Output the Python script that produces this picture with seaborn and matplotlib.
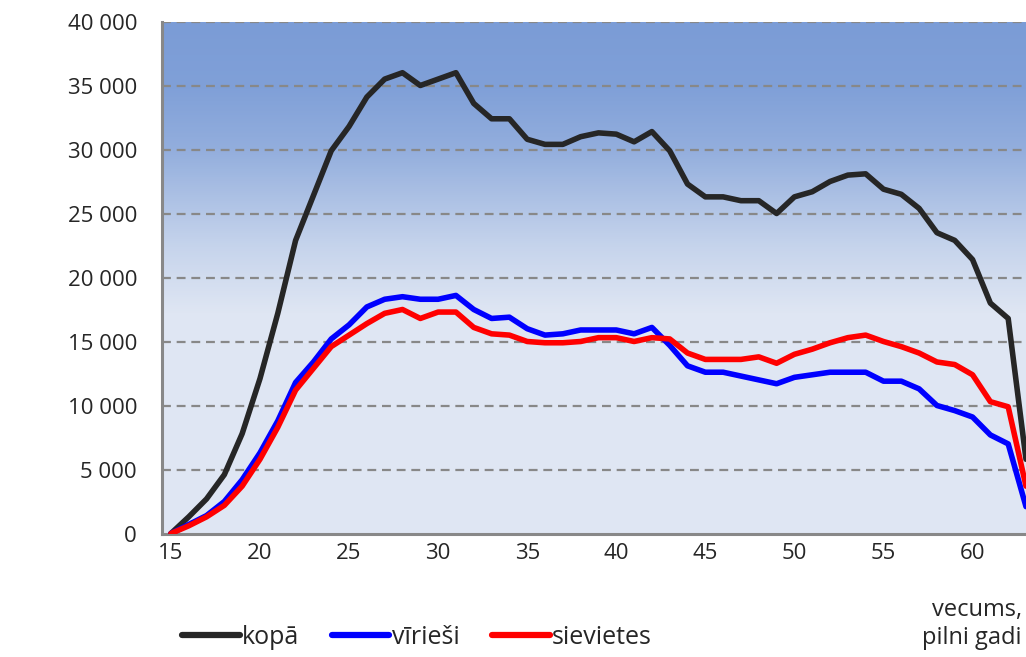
import numpy as np
import pandas as pd
import matplotlib
matplotlib.use("Agg")
import matplotlib.pyplot as plt
import seaborn as sns
from matplotlib.colors import LinearSegmentedColormap
from matplotlib.ticker import FuncFormatter

# vecums, pilni gadi
ages = list(range(15, 64))

kopa = [0, 1300, 2700, 4600, 7800, 12100, 17200, 22900, 26400, 29900,
        31800, 34100, 35500, 36000, 35000, 35500, 36000, 33600, 32400, 32400,
        30800, 30400, 30400, 31000, 31300, 31200, 30600, 31400, 29900, 27300,
        26300, 26300, 26000, 26000, 25000, 26300, 26700, 27500, 28000, 28100,
        26900, 26500, 25400, 23500, 22900, 21400, 18000, 16800, 5800]

virieši = [0, 700, 1400, 2500, 4200, 6300, 8800, 11800, 13400, 15200,
           16300, 17700, 18300, 18500, 18300, 18300, 18600, 17500, 16800, 16900,
           16000, 15500, 15600, 15900, 15900, 15900, 15600, 16100, 14700, 13100,
           12600, 12600, 12300, 12000, 11700, 12200, 12400, 12600, 12600, 12600,
           11900, 11900, 11300, 10000, 9600, 9100, 7700, 7000, 2100]

sievietes = [0, 600, 1300, 2200, 3700, 5800, 8300, 11200, 12900, 14600,
             15500, 16400, 17200, 17500, 16800, 17300, 17300, 16100, 15600, 15500,
             15000, 14900, 14900, 15000, 15300, 15300, 15000, 15300, 15200, 14100,
             13600, 13600, 13600, 13800, 13300, 14000, 14400, 14900, 15300, 15500,
             15000, 14600, 14100, 13400, 13200, 12400, 10300, 9900, 3700]

series_names = ["kopā", "vīrieši", "sievietes"]
colors = ["#262626", "#0000ff", "#ff0000"]

df = pd.concat([
    pd.DataFrame({"vecums": ages, "skaits": kopa, "grupa": "kopā"}),
    pd.DataFrame({"vecums": ages, "skaits": virieši, "grupa": "vīrieši"}),
    pd.DataFrame({"vecums": ages, "skaits": sievietes, "grupa": "sievietes"}),
])

sns.set_style("white")
plt.rcParams["font.family"] = ["Open Sans", "DejaVu Sans"]

fig = plt.figure(figsize=(10.26, 6.57), dpi=100)
ax = fig.add_axes([162 / 1026, (657 - 533.5) / 657, (1026 - 162) / 1026, 512 / 657])

# fona gradients
cmap = LinearSegmentedColormap.from_list("bg", [
    (0.0, "#dfe6f3"), (0.43, "#dfe6f3"), (0.56, "#c6d4ec"),
    (0.75, "#93aedd"), (0.87, "#80a0d8"), (1.0, "#7b9cd6")])
grad = np.linspace(0, 1, 256).reshape(-1, 1)
ax.imshow(grad, cmap=cmap, aspect="auto", origin="lower",
          extent=[0, 1, 0, 1], transform=ax.transAxes, zorder=0)

sns.lineplot(data=df, x="vecums", y="skaits", hue="grupa", hue_order=series_names,
             palette=colors, linewidth=4.0, ax=ax, legend=False, zorder=3,
             solid_capstyle="round", solid_joinstyle="round")

ax.set_xlim(14.5, 63.0)
ax.set_ylim(0, 40000)

ax.set_yticks(range(0, 40001, 5000))
ax.yaxis.set_major_formatter(FuncFormatter(lambda v, p: f"{int(v):,}".replace(",", " ")))
for y in range(5000, 40001, 5000):
    ax.axhline(y, color="#888888", lw=1.6, ls=(0, (4, 2.6)), zorder=1)

ax.set_xticks(range(15, 61, 5))
ax.set_xticks(np.arange(14.5, 63.5, 1), minor=True)
ax.tick_params(axis="x", which="major", length=0, pad=7, labelsize=16)
ax.tick_params(axis="x", which="minor", length=6, width=1.8, color="#888888", direction="out")
ax.tick_params(axis="y", length=9, width=1.8, color="#888888", direction="out", pad=9, labelsize=16)

for s in ["top", "right"]:
    ax.spines[s].set_visible(False)
for s in ["left", "bottom"]:
    ax.spines[s].set_color("#888888")
    ax.spines[s].set_linewidth(2.2)
ax.set_xlabel("")
ax.set_ylabel("")

fig.text(1022 / 1026, (657 - 624) / 657, "vecums,\npilni gadi", ha="right", va="center",
         multialignment="right", fontsize=17, linespacing=1.2)

handles = [plt.Line2D([], [], color=c, lw=4.5, solid_capstyle="round") for c in colors]
fig.legend(handles, series_names, loc="center left", bbox_to_anchor=(172 / 1026, 20 / 657),
           ncol=3, frameon=False, fontsize=18, handlelength=2.3, handletextpad=0.1,
           columnspacing=1.3, borderaxespad=0)

fig.savefig("out.png", dpi=100)
